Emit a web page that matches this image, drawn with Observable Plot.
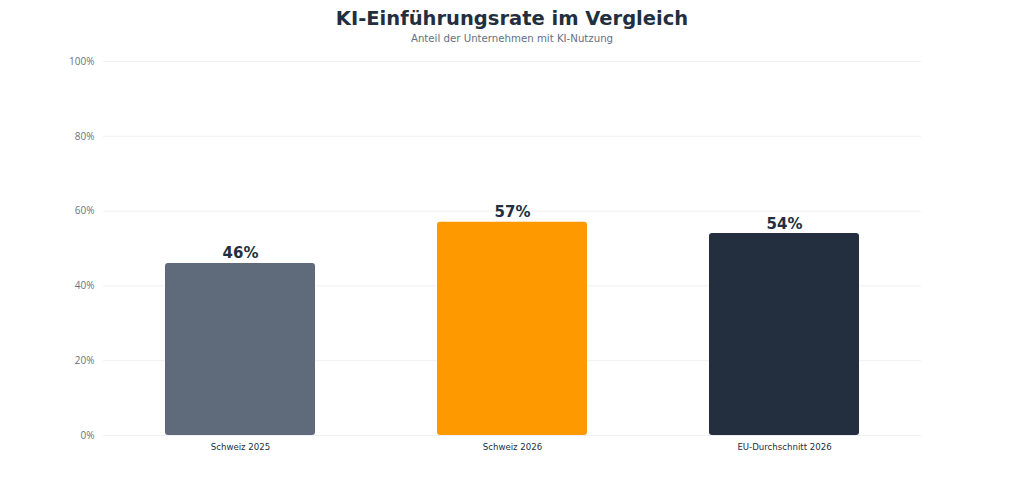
<!DOCTYPE html>
<html>
<head>
<meta charset="utf-8">
<script src="https://cdn.jsdelivr.net/npm/d3@7"></script>
<script src="https://cdn.jsdelivr.net/npm/@observablehq/plot@0.6"></script>
<style>
  html, body { margin: 0; padding: 0; background: #fff; }
  #header { height: 52px; text-align: center; font-family: "DejaVu Sans", sans-serif; }
  #title { margin: 0; padding-top: 7px; font-size: 19.5px; font-weight: bold; color: #232f3e; line-height: 24px; }
  #subtitle { margin: 0; font-size: 10.2px; color: #64707f; line-height: 15px; }
  #chart svg { display: block; }
</style>
</head>
<body>
<div id="header">
  <div id="title">KI-Einführungsrate im Vergleich</div>
  <div id="subtitle">Anteil der Unternehmen mit KI-Nutzung</div>
</div>
<div id="chart"></div>
<script>
const categories = ["Schweiz 2025", "Schweiz 2026", "EU-Durchschnitt 2026"];
const values = [46, 57, 54];
const colors = ["#5f6b7a", "#ff9900", "#232f3e"];
const yTicks = [0, 20, 40, 60, 80, 100];

const data = categories.map((c, i) => ({ category: c, value: values[i] }));

const chart = Plot.plot({
  width: 1024,
  height: 428,
  marginTop: 9,
  marginBottom: 45,
  marginLeft: 103,
  marginRight: 103,
  style: { fontFamily: "DejaVu Sans, sans-serif", background: "#fff" },
  x: { domain: categories, paddingInner: 0.45, paddingOuter: 0.225, label: null },
  y: { domain: [0, 100], label: null },
  color: { domain: categories, range: colors },
  marks: [
    Plot.gridY(yTicks, { stroke: "#eef0f3", strokeOpacity: 1 }),
    Plot.axisY(yTicks, {
      tickSize: 0, tickPadding: 9, tickFormat: d => d + "%",
      fill: "#6b7280", fontSize: 10, fontFamily: "Open Sans, sans-serif", label: null
    }),
    Plot.axisX({ tickSize: 0, tickPadding: 8, fill: "#232f3e", fontSize: 8.6, label: null }),
    Plot.barY(data, { x: "category", y: "value", fill: "category", rx: 3 }),
    Plot.text(data, {
      x: "category", y: "value", text: d => d.value + "%",
      lineAnchor: "bottom", dy: -5, fontSize: 15, fontWeight: "bold", fill: "#232f3e"
    })
  ]
});
document.getElementById("chart").appendChild(chart);
</script>
</body>
</html>
